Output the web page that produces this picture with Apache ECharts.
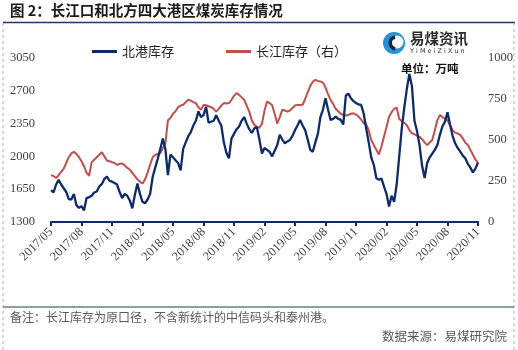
<!DOCTYPE html>
<html><head><meta charset="utf-8">
<script src="https://cdn.jsdelivr.net/npm/echarts@6/dist/echarts.min.js"></script>
<style>html,body{margin:0;padding:0;background:#fff;}#c{width:518px;height:350px;}</style>
</head><body><div id="c"></div>
<script>
// x-axis tick labels (one every 3 months); data is weekly, 4 points per month
const tickLabels = ['2017/05','2017/08','2017/11','2018/02','2018/05','2018/08','2018/11','2019/02','2019/05','2019/08','2019/11','2020/02','2020/05','2020/08','2020/11'];
const monthsPerTick = 3, weeksPerMonth = 4;

// 北港库存 (left axis, 万吨)
const northPort = [
1640,1615,1700,1750,1700,1660,1620,1545,1540,1600,1480,1450,1470,1425,1555,1565,1580,1615,1625,1680,
1705,1760,1785,1740,1730,1715,1700,1620,1555,1600,1580,1530,1445,1590,1710,1600,1515,1500,1540,1600,
1780,1880,1975,2080,2190,2080,1800,2020,1990,1960,1930,1850,2080,2150,2215,2260,2330,2380,2480,2420,
2440,2530,2360,2370,2380,2440,2380,2330,2150,2040,1980,2190,2240,2290,2320,2380,2420,2350,2290,2250,
2300,2310,2180,2030,2090,2070,2050,2000,2060,2120,2230,2180,2140,2160,2175,2220,2280,2330,2390,2330,
2280,2180,2070,2050,2150,2240,2420,2500,2620,2500,2390,2400,2425,2400,2390,2340,2650,2670,2620,2590,
2570,2555,2550,2460,2300,2150,1990,1910,1770,1750,1765,1680,1600,1465,1580,1515,1700,2000,2300,2520,
2720,2880,2750,2380,2270,2120,1900,1770,1930,1990,2030,2070,2120,2230,2320,2370,2470,2340,2220,2140,
2090,2050,2010,1980,1920,1880,1830,1870,1935
];
// 长江库存 (right axis, 万吨)
const yangtze = [
286,280,268,285,305,325,360,395,418,428,415,395,370,340,300,282,365,380,395,410,
425,400,375,370,365,360,348,355,356,345,330,320,300,280,260,245,235,260,300,350,
395,408,415,420,450,480,620,635,660,675,700,710,715,730,745,740,730,725,700,685,
714,712,706,700,690,673,690,710,725,722,725,745,770,786,775,760,745,710,673,620,
592,580,575,600,680,734,725,712,660,600,640,684,680,673,680,695,710,714,714,715,
750,790,830,855,867,860,857,850,820,780,745,720,690,675,660,653,650,653,660,663,
655,643,625,602,595,560,500,470,440,412,460,520,580,640,670,690,698,630,615,605,
590,560,541,535,525,520,505,485,469,485,500,560,620,653,640,630,620,590,560,545,
540,531,510,485,470,440,410,380,360
];
const leftAxis = {min:1300, max:3050, step:350};
const rightAxis = {min:0, max:1000, step:250};
const seriesNames = ['北港库存','长江库存（右）'];

const categories = [];
for (let t = 0; t < tickLabels.length; t++) {
  const steps = (t === tickLabels.length - 1) ? 1 : monthsPerTick * weeksPerMonth;
  for (let k = 0; k < steps; k++) categories.push(tickLabels[t] + '#' + k);
}
const tickEvery = monthsPerTick * weeksPerMonth;

const navy = '#0d2b6b', red = '#c0504d';
const numFont = '"Liberation Serif", "Times New Roman", serif';
const cjk = '"Noto Sans CJK SC", sans-serif';

const chart = echarts.init(document.getElementById('c'), null, {renderer:'canvas'});
chart.setOption({
  animation:false,
  backgroundColor:'#fff',
  grid:{left:51, top:58, width:427, height:164, containLabel:false},
  legend:{
    left:87, top:40, icon:'rect', itemWidth:25, itemHeight:3, itemGap:52,
    textStyle:{fontFamily:cjk, fontSize:13, color:'#222'},
    data:seriesNames
  },
  xAxis:{
    type:'category', boundaryGap:false, data:categories,
    axisLine:{lineStyle:{color:navy, width:2}},
    axisTick:{interval:tickEvery-1, length:4, lineStyle:{color:navy, width:2}},
    axisLabel:{interval:tickEvery-1, rotate:45, margin:8, fontFamily:numFont, fontSize:12.5, color:'#404040',
      formatter:(v)=>v.split('#')[0]},
    splitLine:{show:false}
  },
  yAxis:[
    {type:'value', min:leftAxis.min, max:leftAxis.max, interval:leftAxis.step,
     axisLine:{show:false}, axisTick:{show:false}, splitLine:{show:false},
     axisLabel:{margin:16, fontFamily:numFont, fontSize:12.5, color:'#404040', formatter:(v)=>String(v)}},
    {type:'value', min:rightAxis.min, max:rightAxis.max, interval:rightAxis.step, position:'right',
     axisLine:{show:false}, axisTick:{show:false}, splitLine:{show:false},
     axisLabel:{margin:10, fontFamily:numFont, fontSize:12.5, color:'#404040', formatter:(v)=>String(v)}}
  ],
  series:[
    {name:seriesNames[0], type:'line', yAxisIndex:0, data:northPort, symbol:'none', z:3,
     lineStyle:{color:navy, width:2.3}, itemStyle:{color:navy}},
    {name:seriesNames[1], type:'line', yAxisIndex:1, data:yangtze, symbol:'none', z:2,
     lineStyle:{color:red, width:2}, itemStyle:{color:red}}
  ],
  graphic:[
    {type:'text', left:10, top:3, style:{text:'图 2：长江口和北方四大港区煤炭库存情况', font:'bold 14.5px "Noto Sans CJK SC"', fill:'#1a1a1a'}},
    {type:'line', shape:{x1:3, y1:22.5, x2:515, y2:22.5}, style:{stroke:'#1f3864', lineWidth:1.5}},
    {type:'line', shape:{x1:3, y1:23, x2:3, y2:350}, style:{stroke:'#b0b0b0', lineWidth:1, lineDash:[3,3]}},
    {type:'line', shape:{x1:514, y1:23, x2:514, y2:350}, style:{stroke:'#b0b0b0', lineWidth:1, lineDash:[3,3]}},
    {type:'line', shape:{x1:3, y1:307, x2:514, y2:307}, style:{stroke:'#1f3864', lineWidth:1.2}},
    {type:'text', left:10, top:311, style:{text:'备注：长江库存为原口径，不含新统计的中信码头和泰州港。', font:'12px "Noto Sans CJK SC"', fill:'#595959'}},
    {type:'text', right:11, top:330, style:{text:'数据来源：易煤研究院', font:'12.5px "Noto Sans CJK SC"', fill:'#595959'}},
    // logo
    {type:'circle', shape:{cx:394, cy:43, r:11}, style:{fill:'#2393d8'}},
    {type:'circle', shape:{cx:397, cy:42, r:6.5}, style:{fill:'#fff'}},
    {type:'sector', shape:{cx:396, cy:43, r:7.5, r0:4, startAngle:Math.PI*0.55, endAngle:Math.PI*1.45}, style:{fill:'#1b2440'}},
    {type:'text', left:410, top:31, style:{text:'易煤资讯', font:'bold 14.5px "Noto Sans CJK SC"', fill:'#2b2b2b'}},
    {type:'text', left:410, top:48, style:{text:'Y i M e i Z i X u n', font:'6.5px "DejaVu Sans"', fill:'#333'}},
    {type:'text', left:401, top:63, style:{text:'单位：万吨', font:'bold 11.5px "Noto Sans CJK SC"', fill:'#111'}}
  ]
});
</script></body></html>
